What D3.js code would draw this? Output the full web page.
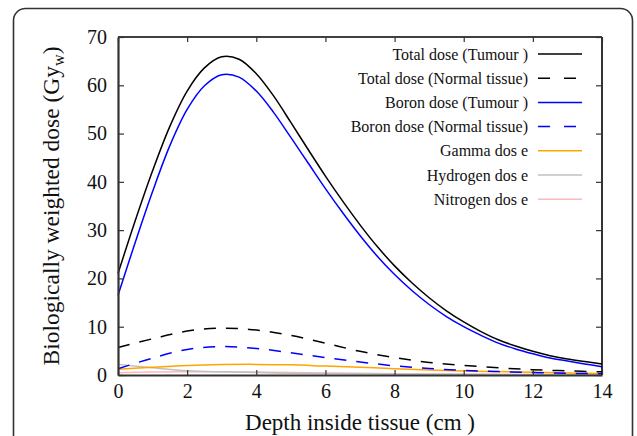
<!DOCTYPE html>
<html>
<head>
<meta charset="utf-8">
<script src="https://cdn.jsdelivr.net/npm/d3@7"></script>
<style>
  body { margin: 0; background: #fff; }
  svg, svg text { font-family: "Times New Roman", Times, "Liberation Serif", "DejaVu Serif", "Noto Serif", serif; }
</style>
</head>
<body>
<div id="chart"></div>
<script>
const FONT = '"Times New Roman", Times, "Liberation Serif", "DejaVu Serif", "Noto Serif", serif';

// Depth values (cm)
const depthFine = [0, 0.5, 1, 1.5, 2, 2.5, 3, 3.5, 4, 4.5, 5, 5.5, 6, 6.5, 7, 7.5, 8, 8.5, 9, 9.5, 10, 10.5, 11, 11.5, 12, 12.5, 13, 13.5, 14];
const depth = [0, 1, 2, 3, 4, 5, 6, 7, 8, 9, 10, 11, 12, 13, 14];

// Dose values (Gy_w)
const totalTumour = [21, 32, 42.3, 51.5, 58.8, 63.6, 65.9, 65.4, 62.4, 57.8, 52.3, 46.7, 41.2, 36, 31.1, 26.6, 22.6, 19.1, 16, 13.3, 11, 9, 7.3, 6, 4.9, 4, 3.3, 2.8, 2.3];
const boronTumour = [16.5, 27.5, 38, 47.5, 55, 59.9, 62.2, 61.7, 58.8, 54.4, 49.2, 43.9, 38.6, 33.6, 28.9, 24.6, 20.8, 17.5, 14.6, 12.1, 10, 8.2, 6.6, 5.4, 4.4, 3.5, 2.9, 2.3, 1.7];
const totalNormal = [5.7, 7.5, 9.1, 9.7, 9.3, 8.2, 6.6, 4.9, 3.6, 2.6, 2.0, 1.5, 1.1, 0.85, 0.65];
const boronNormal = [1.3, 3.5, 5.3, 5.9, 5.5, 4.6, 3.6, 2.7, 1.9, 1.35, 0.95, 0.7, 0.5, 0.35, 0.25];
const gammaDose = [1.2, 1.6, 1.95, 2.15, 2.2, 2.1, 1.85, 1.6, 1.3, 1.05, 0.85, 0.7, 0.55, 0.42, 0.33];
const hydrogenDose = [2.2, 1.5, 0.9, 0.65, 0.5, 0.38, 0.3, 0.25, 0.2, 0.16, 0.13, 0.1, 0.08, 0.06, 0.05];
const nitrogenDose = [0.45, 0.6, 0.65, 0.65, 0.6, 0.5, 0.42, 0.35, 0.28, 0.23, 0.18, 0.14, 0.1, 0.08, 0.06];

const xTicks = [0, 2, 4, 6, 8, 10, 12, 14];
const yTicks = [0, 10, 20, 30, 40, 50, 60, 70];

const series = [
  { name: "Total dose (Tumour )", x: depthFine, y: totalTumour, color: "#000000", dash: null },
  { name: "Total dose (Normal tissue)", x: depth, y: totalNormal, color: "#000000", dash: "12,10" },
  { name: "Boron dose (Tumour )", x: depthFine, y: boronTumour, color: "#0000ff", dash: null },
  { name: "Boron dose (Normal tissue)", x: depth, y: boronNormal, color: "#0000ff", dash: "12,10" },
  { name: "Gamma dos e", x: depth, y: gammaDose, color: "#ffa500", dash: null },
  { name: "Hydrogen dos e", x: depth, y: hydrogenDose, color: "#c0c0c0", dash: null },
  { name: "Nitrogen dos e", x: depth, y: nitrogenDose, color: "#ffb8b8", dash: null }
];

const W = 637, H = 436;
const plot = { left: 118, top: 37, right: 602, bottom: 375 };

const svg = d3.select('#chart').append('svg')
  .attr('width', W)
  .attr('height', H)
  .style('font-family', FONT);

// outer rounded frame
svg.append('rect')
  .attr('x', 13.5).attr('y', 8.5)
  .attr('width', 619).attr('height', 520)
  .attr('rx', 12).attr('ry', 12)
  .attr('fill', 'none')
  .attr('stroke', '#333')
  .attr('stroke-width', 1.6);

const x = d3.scaleLinear().domain([0, 14]).range([plot.left, plot.right]);
const y = d3.scaleLinear().domain([0, 70]).range([plot.bottom, plot.top]);

// curves
const line = d3.line()
  .x(d => x(d[0]))
  .y(d => y(d[1]))
  .curve(d3.curveCatmullRom.alpha(0.5));

// draw the small ones first, main curves on top
series.slice().reverse().forEach(s => {
  svg.append('path')
    .datum(s.x.map((v, i) => [v, s.y[i]]))
    .attr('d', line)
    .attr('fill', 'none')
    .attr('stroke', s.color)
    .attr('stroke-width', 1.5)
    .attr('stroke-dasharray', s.dash);
});

// axis frame
svg.append('line')
  .attr('x1', plot.left).attr('x2', plot.right)
  .attr('y1', plot.top).attr('y2', plot.top)
  .attr('stroke', '#000').attr('stroke-width', 1.6);
svg.append('line')
  .attr('x1', plot.right).attr('x2', plot.right)
  .attr('y1', plot.top).attr('y2', plot.bottom)
  .attr('stroke', '#000').attr('stroke-width', 1.6);

// bottom axis + mirrored top ticks
const xAxis = svg.append('g')
  .attr('transform', `translate(0,${plot.bottom})`)
  .call(d3.axisBottom(x).tickValues(xTicks).tickSize(-5).tickPadding(10).tickSizeOuter(0));
const xTop = svg.append('g')
  .attr('transform', `translate(0,${plot.top})`)
  .call(d3.axisTop(x).tickValues(xTicks).tickSize(-5).tickFormat('').tickSizeOuter(0));
xTop.select('.domain').remove();

// left axis + mirrored right ticks
const yAxis = svg.append('g')
  .attr('transform', `translate(${plot.left},0)`)
  .call(d3.axisLeft(y).tickValues(yTicks).tickSize(-6).tickPadding(11).tickSizeOuter(0));
const yRight = svg.append('g')
  .attr('transform', `translate(${plot.right},0)`)
  .call(d3.axisRight(y).tickValues(yTicks).tickSize(-6).tickFormat('').tickSizeOuter(0));
yRight.select('.domain').remove();

[xAxis, yAxis, xTop, yRight].forEach(g => g.attr('font-family', null).style('font-family', FONT));
[xAxis, yAxis].forEach(g => {
  g.select('.domain').attr('stroke', '#333').attr('stroke-width', 2.2);
  g.selectAll('text')
    .style('font-family', FONT)
    .attr('font-size', 20)
    .attr('fill', '#111');
});
[xAxis, yAxis, xTop, yRight].forEach(g => {
  g.selectAll('.tick line').attr('stroke', '#333').attr('stroke-width', 1.2);
});
xAxis.selectAll('.tick text').attr('dy', '0.65em');

// axis titles
svg.append('text')
  .attr('x', (plot.left + plot.right) / 2)
  .attr('y', 430)
  .attr('text-anchor', 'middle')
  .attr('font-size', 23)
  .attr('fill', '#111')
  .style('font-family', FONT)
  .text('Depth inside tissue (cm )');

const yTitle = svg.append('text')
  .attr('transform', `translate(59,${(plot.top + plot.bottom) / 2}) rotate(-90)`)
  .attr('text-anchor', 'middle')
  .attr('font-size', 23.5)
  .attr('fill', '#111')
  .style('font-family', FONT);
yTitle.append('tspan').text('Biologically weighted dose (Gy');
yTitle.append('tspan').attr('font-size', 16).attr('dy', 5).text('w');
yTitle.append('tspan').attr('dy', -5).text(')');

// legend
const legend = svg.append('g');
series.forEach((s, i) => {
  const ly = 54 + i * 24.2;
  legend.append('text')
    .attr('x', 528)
    .attr('y', ly)
    .attr('dy', '0.35em')
    .attr('text-anchor', 'end')
    .attr('font-size', 16)
    .attr('fill', '#111')
    .style('font-family', FONT)
    .text(s.name);
  legend.append('line')
    .attr('x1', 538).attr('x2', 582)
    .attr('y1', ly).attr('y2', ly)
    .attr('stroke', s.color)
    .attr('stroke-width', 1.5)
    .attr('stroke-dasharray', s.dash ? '12,14' : null);
});
</script>
</body>
</html>
